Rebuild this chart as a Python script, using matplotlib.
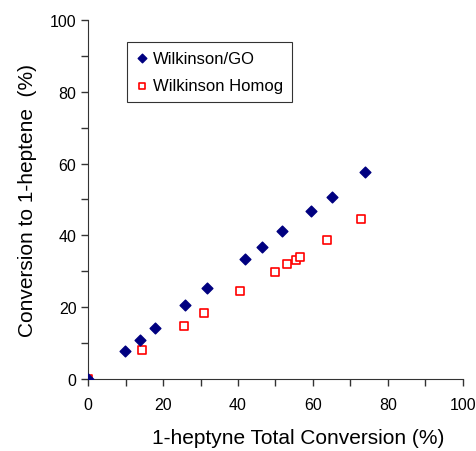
import matplotlib
matplotlib.use("Agg")
import matplotlib.pyplot as plt
from matplotlib.ticker import MultipleLocator

plt.rcParams['font.family'] = ['Liberation Sans', 'DejaVu Sans']

# Wilkinson/GO
go_x = [0, 9.9, 13.9, 17.9, 25.9, 31.6, 41.9, 46.3, 51.8, 59.4, 65.0, 73.9]
go_y = [0, 7.9, 10.8, 14.2, 20.5, 25.5, 33.3, 36.9, 41.1, 46.8, 50.8, 57.6]

# Wilkinson Homog
hom_x = [0, 14.4, 25.7, 30.8, 40.4, 49.9, 53.1, 55.4, 56.5, 63.7, 72.8]
hom_y = [0, 8.0, 14.8, 18.5, 24.5, 29.7, 32.0, 33.1, 33.9, 38.7, 44.7]

fig = plt.figure(figsize=(4.77, 4.52), dpi=100)
ax = fig.add_axes([0.185, 0.159, 0.785, 0.795])

ax.scatter(go_x, go_y, marker='D', s=30, color='#000080', label='Wilkinson/GO', zorder=3)
ax.scatter(hom_x, hom_y, marker='s', s=30, facecolors='white', edgecolors='#ff0000',
           linewidths=1.2, label='Wilkinson Homog', zorder=2)

ax.set_xlim(0, 100)
ax.set_ylim(0, 100)
ax.xaxis.set_major_locator(MultipleLocator(20))
ax.yaxis.set_major_locator(MultipleLocator(20))
ax.xaxis.set_minor_locator(MultipleLocator(10))
ax.yaxis.set_minor_locator(MultipleLocator(10))
ax.tick_params(which='both', direction='out', length=5, width=1, colors='#333333',
               labelcolor='black', labelsize=11.5)
ax.tick_params(axis='x', pad=8)
ax.spines['top'].set_visible(False)
ax.spines['right'].set_visible(False)
for s in ['left', 'bottom']:
    ax.spines[s].set_color('#333333')

ax.set_xlabel('1-heptyne Total Conversion (%)', fontsize=15)
ax.xaxis.set_label_coords(0.56, -0.137)
ax.set_ylabel('Conversion to 1-heptene  (%)', fontsize=15, labelpad=9)

leg = ax.legend(loc='upper left', bbox_to_anchor=(0.08, 0.96), fontsize=12,
                frameon=True, fancybox=False, edgecolor='black', handletextpad=0.2,
                handlelength=0.9, borderpad=0.5, labelspacing=0.75, scatterpoints=1,
                markerscale=0.8)
leg.get_frame().set_linewidth(0.8)

fig.savefig('out.png', dpi=100)
